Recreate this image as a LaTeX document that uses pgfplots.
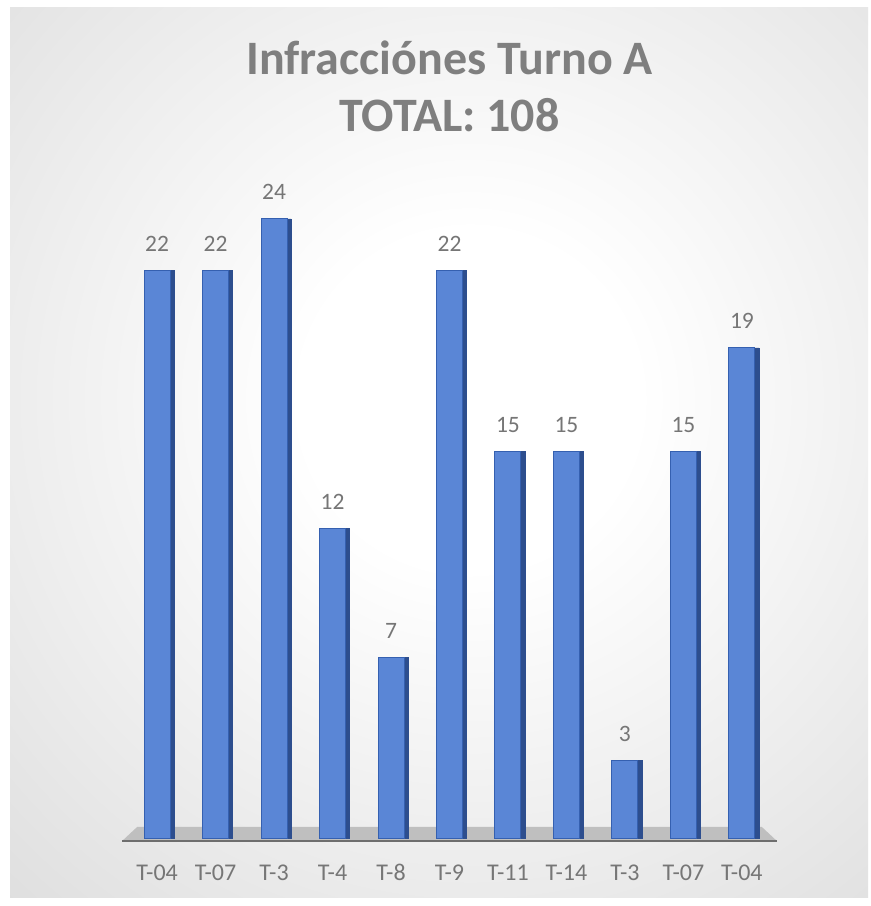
\documentclass[border=0pt]{standalone}
\usepackage{pgfplots}
\pgfplotsset{compat=1.18}
\usepackage{fontspec}
\setmainfont{Carlito}
\definecolor{barfront}{HTML}{5A86D6}
\definecolor{barline}{HTML}{3560B0}
\definecolor{barside}{HTML}{2D4E8E}
\definecolor{floorgray}{HTML}{BFBFBF}
\definecolor{floorline}{HTML}{6E6E6E}
\definecolor{titlegray}{HTML}{7F7F7F}
\definecolor{labgray}{HTML}{767676}
\pgfdeclareradialshading{bgshade}{\pgfpoint{0bp}{0bp}}{color(0bp)=(white); color(6bp)=(white); color(50bp)=(black!30)}
\begin{document}
\begin{tikzpicture}[x=1pt,y=1pt]
\useasboundingbox (0,0) rectangle (871,906);
\fill[white] (0,0) rectangle (871,906);
\begin{scope}
\clip (10,8) rectangle (868,898);
\shade[shading=bgshade] (470,506) circle (700);
\end{scope}
\node[anchor=base, font=\bfseries\fontsize{48}{52}\selectfont, text=titlegray, inner sep=0pt] at (449.5,831) {Infracciónes Turno A};
\node[anchor=base, font=\bfseries\fontsize{48}{52}\selectfont, text=titlegray, inner sep=0pt] at (449.5,774) {TOTAL: 108};
\begin{axis}[
  at={(122pt,68pt)}, anchor=south west,
  scale only axis, width=655pt, height=619pt,
  xmin=-0.6, xmax=10.6, ymin=0, ymax=24,
  axis line style={draw=none}, clip=false,
  ytick=\empty, ymajorticks=false,
  xtick={0,1,2,3,4,5,6,7,8,9,10},
  xticklabels={T-04,T-07,T-3,T-4,T-8,T-9,T-11,T-14,T-3,T-07,T-04},
  major tick length=0pt,
  xticklabel style={font=\fontsize{24}{26}\selectfont, text=labgray, anchor=base, yshift=-42pt, inner sep=0pt},
  /pgf/number format/assume math mode=true,
  ybar,
]
\fill[floorgray] (axis cs:-0.6,-0.12) -- (axis cs:10.6,-0.12) -- (axis cs:10.34,0.43) -- (axis cs:-0.34,0.43) -- cycle;
\draw[floorline, line width=2pt] (axis cs:-0.6,-0.12) -- (axis cs:10.6,-0.12);
\addplot[fill=barside, draw=barside, bar width=4pt, bar shift=15pt] coordinates {(0,22) (1,22) (2,24) (3,12) (4,7) (5,22) (6,15) (7,15) (8,3) (9,15) (10,19)};
\addplot[fill=barfront, draw=barline, line width=1pt, bar width=26pt, bar shift=0pt,
  nodes near coords,
  every node near coord/.append style={font=\fontsize{23.5}{25}\selectfont, text=labgray, anchor=base, yshift=19pt, inner sep=0pt}]
  coordinates {(0,22) (1,22) (2,24) (3,12) (4,7) (5,22) (6,15) (7,15) (8,3) (9,15) (10,19)};
\end{axis}
\end{tikzpicture}
\end{document}
